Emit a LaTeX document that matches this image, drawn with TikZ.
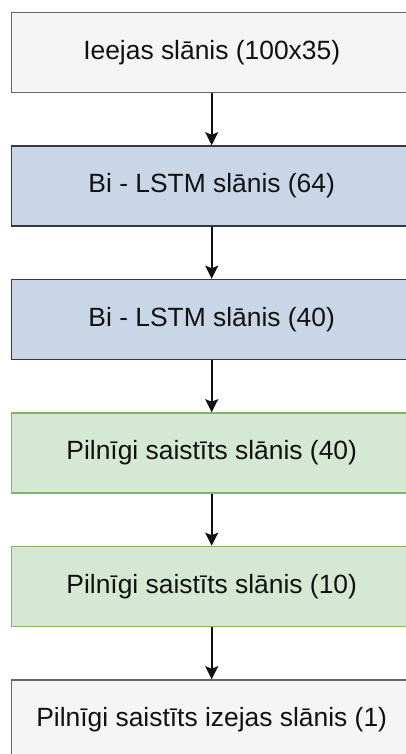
\documentclass[tikz,border=0pt]{standalone}
\usepackage{fontspec}
\setmainfont{Liberation Sans}
\usetikzlibrary{arrows.meta}

\definecolor{greyfill}{HTML}{F5F5F5}
\definecolor{greyline}{HTML}{666666}
\definecolor{bluefill}{RGB}{201,214,232}
\definecolor{blueline}{HTML}{36393D}
\definecolor{greenfill}{HTML}{D5E8D4}
\definecolor{greenline}{HTML}{82B366}
\definecolor{ink}{HTML}{111111}

\tikzset{
  layer/.style={draw, line width=1.6bp, minimum width=400bp, minimum height=80bp,
    inner sep=0pt, font=\fontsize{26.5}{30}\selectfont, text=ink},
  inlayer/.style={layer, fill=greyfill, draw=greyline},
  lstm/.style={layer, fill=bluefill, draw=blueline},
  dense/.style={layer, fill=greenfill, draw=greenline},
  flow/.style={draw=ink, line width=1.8bp,
    -{Stealth[length=13bp, width=13bp, inset=2.5bp]}},
}

\begin{document}
\begin{tikzpicture}[x=1bp, y=-1bp]
  \useasboundingbox (0,0) rectangle (405,754);

  \node[inlayer] (in)   at (211.7, 52.5)  {Ieejas slānis (100x35)};
  \node[lstm]    (bi1)  at (211.7, 186)   {Bi - LSTM slānis (64)};
  \node[lstm]    (bi2)  at (211.7, 319.5) {Bi - LSTM slānis (40)};
  \node[dense]   (fc1)  at (211.7, 453)   {Pilnīgi saistīts slānis (40)};
  \node[dense]   (fc2)  at (211.7, 586.5) {Pilnīgi saistīts slānis (10)};
  \node[inlayer] (out)  at (211.7, 720)   {Pilnīgi saistīts izejas slānis (1)};

  \draw[flow] (in)  -- (bi1);
  \draw[flow] (bi1) -- (bi2);
  \draw[flow] (bi2) -- (fc1);
  \draw[flow] (fc1) -- (fc2);
  \draw[flow] (fc2) -- (out);
\end{tikzpicture}
\end{document}
